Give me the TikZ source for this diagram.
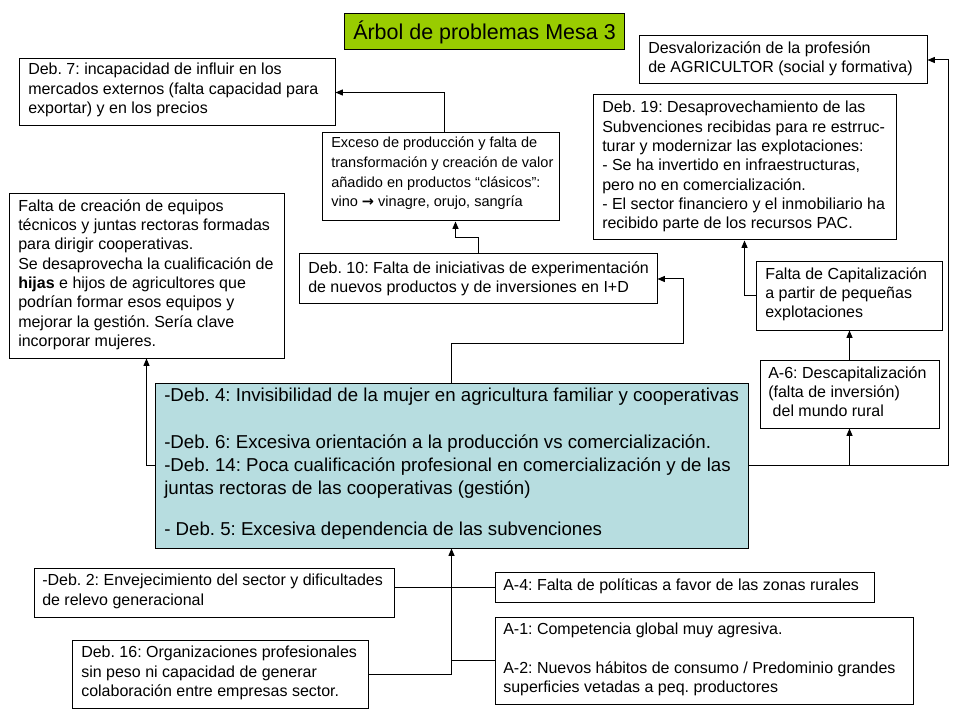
\documentclass[tikz,border=0pt]{standalone}
\usepackage{fontspec}
\setmainfont{Liberation Sans}
\newfontfamily\dejavu{DejaVu Sans}
\usetikzlibrary{arrows.meta,fit,calc}
\definecolor{titlegreen}{HTML}{99CC00}
\definecolor{mainblue}{HTML}{B7DDE0}
\tikzset{
  frame/.style={draw=black, line width=0.75pt, inner sep=0pt},
  txt/.style={anchor=north west, inner sep=0pt, align=left, font=\fontsize{12}{14.5}\selectfont},
  arr/.style={draw=black, line width=0.75pt, -{Triangle[length=5.5pt,width=4.5pt]}},
  con/.style={draw=black, line width=0.75pt},
}
\begin{document}
\frenchspacing
\begin{tikzpicture}[x=0.75pt,y=-0.75pt]
\useasboundingbox (0,0) rectangle (960,720);

% title
\node[frame, fill=titlegreen, fit={(344,14) (624,50)}] (title) {};
\node[inner sep=0pt, anchor=west, font=\fontsize{16.1}{18}\selectfont] at (353,32) {Árbol de problemas Mesa 3};

% boxes
\node[frame, fit={(19,59) (335,126)}] (deb7) {};
\node[txt] at (28,63) {Deb. 7: incapacidad de influir en los\\mercados externos (falta capacidad para\\exportar) y en los precios};

\node[frame, fit={(322,133) (559,221)}] (exceso) {};
\node[txt, font=\fontsize{10.9}{14.7}\selectfont] at (331,137) {Exceso de producción y falta de\\transformación y creación de valor\\añadido en productos “clásicos”:\\vino {\dejavu\bfseries →} vinagre, orujo, sangría};

\node[frame, fit={(639,36) (927,84)}] (desval) {};
\node[txt] at (648,41) {Desvalorización de la profesión\\de AGRICULTOR (social y formativa)};

\node[frame, fit={(593,95) (896,240)}] (deb19) {};
\node[txt] at (602,101) {Deb. 19: Desaprovechamiento de las\\Subvenciones recibidas para re estrruc-\\turar y modernizar las explotaciones:\\- Se ha invertido en infraestructuras,\\pero no en comercialización.\\- El sector financiero y el inmobiliario ha\\recibido parte de los recursos PAC.};

\node[frame, fit={(9,194) (284,358)}] (faltacre) {};
\node[txt] at (18,199) {Falta de creación de equipos\\técnicos y juntas rectoras formadas\\para dirigir cooperativas.\\Se desaprovecha la cualificación de\\\textbf{hijas} e hijos de agricultores que\\podrían formar esos equipos y\\mejorar la gestión. Sería clave\\incorporar mujeres.};

\node[frame, fit={(299,254) (657,304)}] (deb10) {};
\node[txt] at (308,261) {Deb. 10: Falta de iniciativas de experimentación\\de nuevos productos y de inversiones en I+D};

\node[frame, fit={(756,262) (942,330)}] (faltacap) {};
\node[txt] at (765,267) {Falta de Capitalización\\a partir de pequeñas\\explotaciones};

\node[frame, fit={(760,360) (939,428)}] (a6) {};
\node[txt] at (768,366) {A-6: Descapitalización\\(falta de inversión)\\\ del mundo rural};

\node[frame, fill=mainblue, fit={(155,383) (748,548)}] (main) {};
\node[txt, font=\fontsize{14}{17.4}\selectfont] at (164,388) {-Deb. 4: Invisibilidad de la mujer en agricultura familiar y cooperativas\\[17.4pt]-Deb. 6: Excesiva orientación a la producción vs comercialización.\\-Deb. 14: Poca cualificación profesional en comercialización y de las\\juntas rectoras de las cooperativas (gestión)\\[13pt]- Deb. 5: Excesiva dependencia de las subvenciones};

\node[frame, fit={(34,568) (394,617)}] (deb2) {};
\node[txt] at (42,574) {-Deb. 2: Envejecimiento del sector y dificultades\\de relevo generacional};

\node[frame, fit={(495,572) (874,602)}] (a4) {};
\node[txt] at (503,578) {A-4: Falta de políticas a favor de las zonas rurales};

\node[frame, fit={(495,617) (913,704)}] (a1) {};
\node[txt] at (503,623) {A-1: Competencia global muy agresiva.\\[14.5pt]A-2: Nuevos hábitos de consumo / Predominio grandes\\superficies vetadas a peq. productores};

\node[frame, fit={(72,640) (368,708)}] (deb16) {};
\node[txt] at (81,646) {Deb. 16: Organizaciones profesionales\\sin peso ni capacidad de generar\\colaboración entre empresas sector.};

% connectors
\draw[arr] ($(exceso.north)+(4,0)$) |- (deb7.east);
\draw[arr] (deb10.north) -- ++(0,-16) -| ($(exceso.south)+(15,0)$);
\draw[arr] (main.north) |- (683,343) |- (deb10.east);
\draw[arr] (main.west) -| (faltacre.south);
\draw[arr] (main.east) -| (a6.south);
\draw[arr] (main.east) -| (948,300) |- (desval.east);
\draw[arr] (a6.north) -- (a6.north |- faltacap.south);
\draw[arr] (faltacap.west) -| (deb19.south);

\coordinate (trunk) at (main.south |- deb16.east);
\draw[con] (deb2.east |- a4.west) -- (a4.west);
\draw[con] (deb16.east) -- (trunk);
\draw[con] (a1.west) -- (main.south |- a1.west);
\draw[arr] (trunk) -- (main.south);
\end{tikzpicture}
\end{document}
